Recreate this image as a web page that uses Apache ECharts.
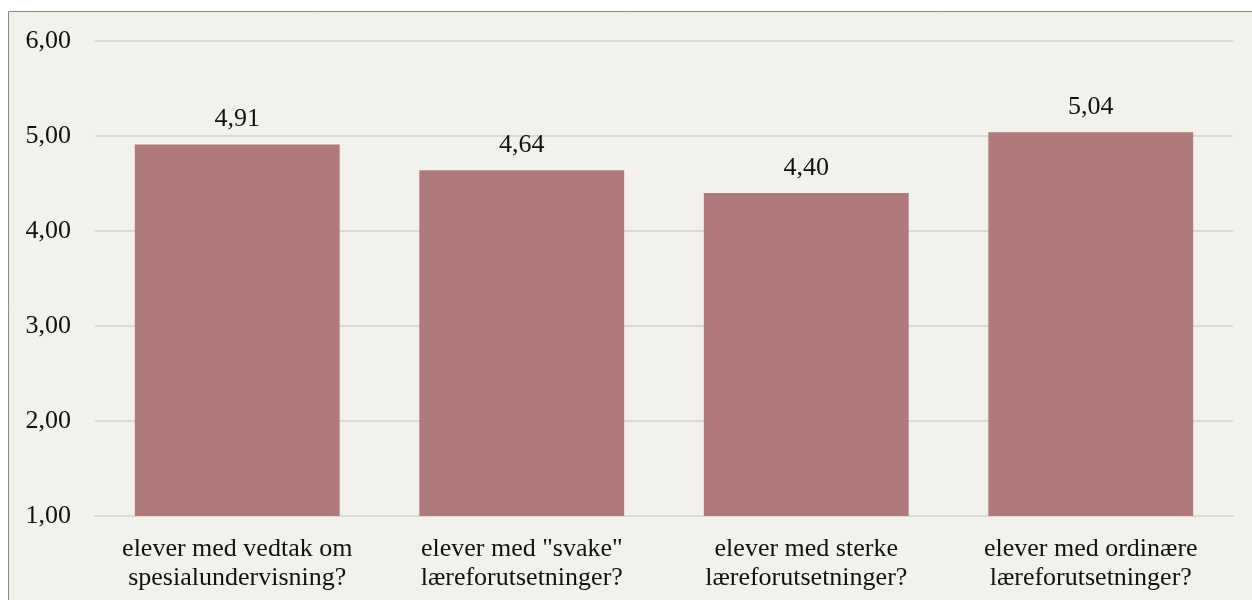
<!DOCTYPE html>
<html>
<head>
<meta charset="utf-8">
<script src="https://cdn.jsdelivr.net/npm/echarts@6/dist/echarts.min.js"></script>
<style>
html,body{margin:0;padding:0;background:#fff;}
#c{width:1252px;height:600px;}
</style>
</head>
<body>
<div id="c"></div>
<script>
const categories = [
  'elever med vedtak om\nspesialundervisning?',
  'elever med "svake"\nlæreforutsetninger?',
  'elever med sterke\nlæreforutsetninger?',
  'elever med ordinære\nlæreforutsetninger?'
];
const values = [4.91, 4.64, 4.40, 5.04];
const yMin = 1, yMax = 6, yStep = 1;

const fmt = v => Number(v).toFixed(2).replace('.', ',');
const font = '"Liberation Serif", "Times New Roman", serif';

const chart = echarts.init(document.getElementById('c'), null, {renderer: 'canvas'});
chart.setOption({
  backgroundColor: '#ffffff',
  animation: false,
  graphic: [{
    type: 'rect', z: -10, silent: true,
    shape: {x: 8.5, y: 11.5, width: 1400, height: 800},
    style: {fill: '#f2f1eb', stroke: '#8a8a8a', lineWidth: 1}
  }],
  grid: {left: 95, right: 19, top: 41, bottom: 84, containLabel: false},
  xAxis: {
    type: 'category',
    data: categories,
    axisLine: {show: true, lineStyle: {color: '#d9d9d9', width: 2}},
    axisTick: {show: false},
    axisLabel: {
      color: '#111', fontFamily: font, fontSize: 26, lineHeight: 29,
      margin: 19, interval: 0
    }
  },
  yAxis: {
    type: 'value', min: yMin, max: yMax, interval: yStep,
    axisLine: {show: false}, axisTick: {show: false},
    splitLine: {lineStyle: {color: '#d9d9d9', width: 2}},
    axisLabel: {
      color: '#111', fontFamily: font, fontSize: 26, margin: 24,
      formatter: v => fmt(v)
    }
  },
  series: [{
    type: 'bar',
    data: values,
    barWidth: '72%',
    itemStyle: {color: '#b07a7d'},
    label: {
      show: true, position: 'top', distance: 12,
      color: '#111', fontFamily: font, fontSize: 26,
      formatter: p => fmt(p.value)
    }
  }]
});
</script>
</body>
</html>
